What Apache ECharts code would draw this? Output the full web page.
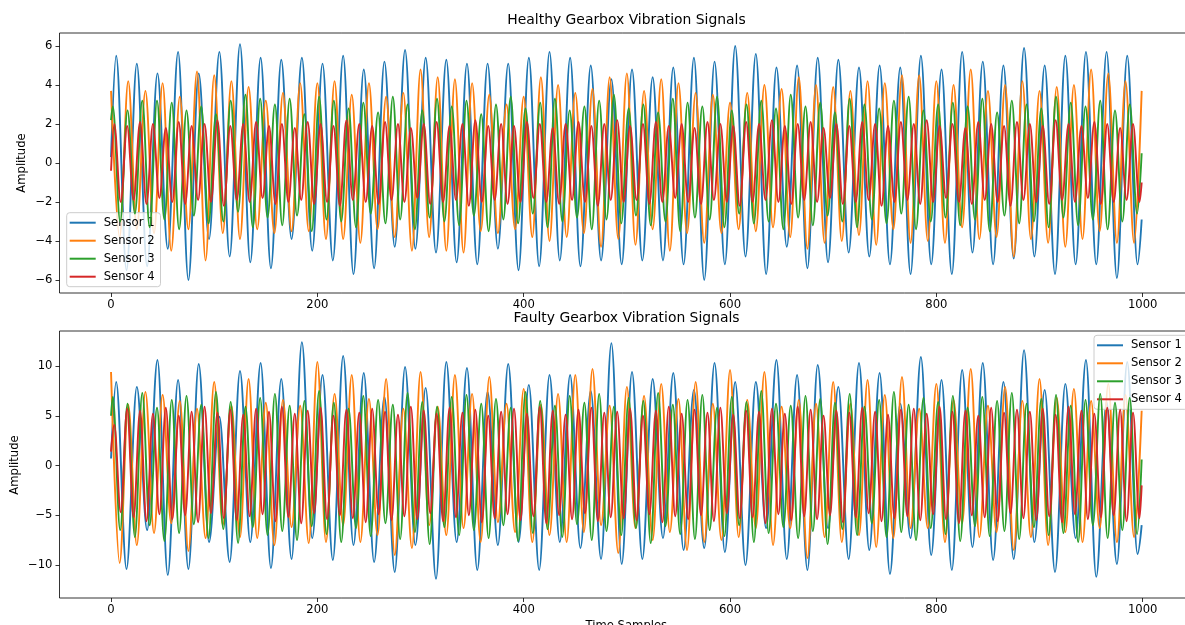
<!DOCTYPE html>
<html><head><meta charset="utf-8">
<script src="https://cdn.jsdelivr.net/npm/echarts@6/dist/echarts.min.js"></script>
<style>html,body{margin:0;padding:0;background:#fff}#c{width:1185px;height:625px}</style>
</head><body><div id="c"></div>
<script>
// ---------- data ----------
const sensorNames = ['Sensor 1', 'Sensor 2', 'Sensor 3', 'Sensor 4'];
const sensorColors = ['#1f77b4', '#ff7f0e', '#2ca02c', '#d62728'];
const cyclesPer1000 = [50, 60, 70, 80];          // oscillation cycles over the 1000 samples
const firstPeakSample = [5, 0, 1.71, 3.125];     // sample index of each sensor's first peak
const lastSample = 999;
const xTicks = [0, 200, 400, 600, 800, 1000];

// Healthy gearbox: peak / trough values, in time order
const healthyStart = [0.3, null, 2.2, -0.4];
const healthyEnd = [-2.9, 3.7, 0.5, -1.0];
const healthyS1Peaks = [5.5,5.1,4.6,5.7,4.6,5.7,6.1,5.4,5.3,5.4,5.1,5.5,4.8,5.2,5.8,5.4,5.3,5.1,5.1,5.1,5.4,5.7,5.4,5.0,4.3,4.8,4.4,4.9,5.4,5.2,6.0,5.6,4.9,5.0,5.4,5.3,4.9,5.0,4.9,5.5,4.8,5.7,5.2,5.0,5.9,5.0,5.5,5.7,5.7,5.5];
const healthyS1Troughs = [-5.5,-5.3,-4.4,-6.0,-3.9,-4.8,-5.1,-5.4,-3.9,-4.5,-5.0,-5.7,-5.4,-4.3,-4.4,-4.6,-5.1,-5.2,-4.4,-5.5,-5.3,-5.0,-5.3,-5.0,-5.2,-5.0,-5.0,-5.2,-6.0,-5.2,-4.8,-5.7,-4.3,-5.4,-5.1,-4.6,-4.8,-5.2,-5.7,-5.2,-5.7,-4.6,-5.2,-4.9,-4.8,-5.7,-5.2,-5.2,-5.9,-5.2];
const healthyS2Peaks = [3.7,4.2,3.7,4.1,3.4,4.7,4.5,4.2,3.9,3.2,3.6,4.1,4.1,4.2,3.5,4.1,3.4,3.6,4.8,4.4,4.3,4.1,3.5,3.0,3.4,4.4,4.0,3.6,3.8,4.4,4.6,3.7,4.3,4.1,3.6,3.5,3.1,3.6,4.0,3.8,4.4,4.0,3.9,3.7,4.2,4.1,4.5,4.5,4.2,4.0,4.8,3.7,4.0,4.2,3.7,3.9,4.0,4.8,4.6,4.2];
const healthyS2Troughs = [-3.8,-3.4,-3.6,-4.5,-3.4,-5.0,-3.6,-3.9,-3.4,-3.6,-3.5,-3.5,-3.9,-3.9,-4.1,-3.4,-3.8,-4.5,-3.8,-4.5,-4.6,-3.5,-3.6,-3.4,-3.8,-4.0,-3.8,-3.6,-4.3,-3.9,-4.2,-3.4,-4.5,-3.6,-4.1,-3.6,-3.4,-3.5,-3.3,-3.8,-4.4,-4.1,-4.0,-3.7,-4.2,-3.4,-4.1,-4.0,-4.1,-3.3,-3.9,-3.8,-4.8,-3.9,-4.1,-4.3,-3.9,-3.5,-4.1,-4.1];
const healthyS3Peaks = [2.9,2.7,3.2,3.2,3.1,2.7,2.9,2.5,3.2,3.5,3.3,3.0,3.3,2.5,3.4,3.2,2.8,3.1,2.6,3.4,3.0,2.7,3.3,2.9,3.2,2.5,3.0,3.4,2.8,3.1,3.3,2.7,2.9,3.2,3.5,2.8,3.0,2.6,3.3,3.1,2.9,3.4,2.7,3.0,3.2,2.8,3.5,2.9,3.1,2.6,3.3,3.0,2.8,3.2,3.4,2.7,3.0,3.1,2.9,3.3,2.6,3.2,3.0,2.8,3.4,3.1,2.9,3.2,2.7,3.0];
const healthyS3Troughs = [-3.0,-2.6,-3.3,-2.9,-3.4,-2.7,-3.1,-3.0,-2.5,-3.3,-2.8,-3.2,-2.7,-3.5,-2.9,-3.0,-3.3,-2.6,-3.1,-2.9,-3.4,-2.8,-3.0,-3.2,-2.7,-3.5,-2.9,-3.1,-2.6,-3.3,-3.0,-2.8,-3.4,-2.9,-3.1,-2.7,-3.2,-3.0,-3.5,-2.8,-2.9,-3.3,-2.6,-3.1,-3.0,-3.4,-2.8,-3.2,-2.7,-3.0,-3.3,-2.9,-3.1,-2.6,-3.4,-3.0,-2.8,-3.2,-2.9,-3.5,-2.7,-3.1,-3.0,-3.3,-2.8,-3.2,-2.9,-3.4,-3.0,-2.6];
const healthyS4Peaks = [2.0,1.9,2.1,2.0,1.8,2.1,1.9,2.0,2.2,1.9,2.0,2.1,1.9,2.0,1.8,2.1,2.0,1.9,2.2,2.0,1.9,2.1,2.0,1.8,2.0,2.1,1.9,2.0,2.2,1.9,2.0,1.9,2.1,2.0,1.8,2.0,2.1,1.9,2.0,2.2,1.9,2.0,2.1,1.9,2.0,1.8,2.1,2.0,1.9,2.1,2.0,2.2,1.9,2.0,2.1,1.8,2.0,1.9,2.1,2.0,1.9,2.1,2.0,2.2,1.9,2.0,1.8,2.1,2.0,1.9,2.1,2.0,1.9,2.2,2.0,1.9,2.1,2.0,1.8,2.0];
const healthyS4Troughs = [-2.0,-1.9,-2.1,-1.8,-2.0,-2.1,-1.9,-2.0,-2.2,-1.9,-2.0,-1.8,-2.1,-2.0,-1.9,-2.1,-2.0,-2.2,-1.9,-2.0,-2.1,-1.9,-2.0,-1.8,-2.1,-2.0,-1.9,-2.2,-2.0,-1.9,-2.1,-2.0,-1.8,-2.0,-2.1,-1.9,-2.0,-2.2,-1.9,-2.0,-1.9,-2.1,-2.0,-1.8,-2.0,-2.1,-1.9,-2.0,-2.2,-2.0,-1.9,-2.0,-2.1,-1.9,-2.0,-1.8,-2.1,-2.0,-1.9,-2.2,-2.0,-1.9,-2.1,-2.0,-1.8,-2.0,-2.1,-1.9,-2.0,-2.2,-1.9,-2.0,-2.1,-1.9,-2.0,-1.8,-2.1,-2.0,-1.9,-2.0];

// Faulty gearbox
const faultyStart = [0.7, null, 5.0, 1.4];
const faultyEnd = [-6.0, 5.5, 0.6, -2.0];
const faultyS1Peaks = [8.4,7.9,10.6,8.6,10.2,4.9,9.5,10.3,8.7,12.4,9.1,11.0,9.3,6.9,9.9,7.8,10.4,9.8,7.4,10.2,8.1,9.1,9.1,7.5,12.3,9.4,8.7,9.3,7.6,10.3,8.4,8.4,10.6,9.1,10.1,7.9,10.3,9.3,6.2,10.9,8.6,9.6,10.3,8.4,11.6,7.6,8.2,10.6,6.4,10.4];
const faultyS1Troughs = [-10.4,-6.5,-11.0,-10.4,-7.7,-9.7,-7.7,-10.3,-9.4,-7.3,-9.5,-8.0,-9.7,-10.7,-8.0,-11.4,-7.7,-10.5,-8.0,-7.7,-10.5,-7.7,-8.3,-9.4,-9.9,-9.4,-7.3,-8.5,-8.3,-8.7,-10.0,-6.3,-9.4,-10.5,-6.3,-9.4,-8.5,-10.9,-7.3,-9.0,-10.5,-8.2,-9.5,-9.4,-7.7,-10.7,-7.3,-11.2,-9.9,-8.9];
const faultyS2Peaks = [9.4,6.1,7.4,7.1,6.5,5.7,8.4,6.0,8.7,6.3,6.6,6.0,10.4,7.2,9.1,6.7,8.7,5.7,9.4,5.9,9.1,7.2,8.9,6.2,7.7,6.1,7.2,9.1,9.7,6.0,7.9,7.0,8.2,6.7,8.4,6.2,9.6,6.6,9.4,5.9,6.6,6.2,8.4,6.2,8.6,7.1,8.9,5.7,8.2,6.6,9.7,6.0,7.9,6.5,8.7,6.8,7.7,6.5,8.2,7.1];
const faultyS2Troughs = [-9.8,-8.0,-6.8,-5.8,-8.6,-7.3,-6.0,-7.2,-7.3,-8.0,-6.2,-7.8,-7.7,-6.0,-7.7,-7.0,-9.0,-8.3,-6.0,-7.0,-6.3,-7.7,-5.7,-6.7,-7.7,-7.0,-7.7,-6.7,-6.0,-8.8,-6.3,-7.5,-6.7,-8.5,-7.7,-7.5,-7.2,-6.3,-8.0,-6.3,-9.3,-7.2,-7.7,-7.0,-8.2,-7.3,-6.3,-6.3,-7.7,-5.8,-7.2,-6.7,-8.5,-7.2,-8.0,-6.7,-7.7,-6.3,-7.7,-7.2];
const faultyS3Peaks = [6.9,6.2,7.3,5.8,6.6,7.0,6.1,7.4,6.4,5.9,6.8,7.2,6.0,6.5,7.5,6.3,5.7,7.0,6.6,6.1,7.3,6.4,5.9,6.9,7.1,6.2,6.7,5.8,7.4,6.5,6.0,7.0,6.3,7.2,5.9,6.8,6.5,7.3,6.1,6.6,7.1,5.8,6.9,6.4,7.5,6.2,6.0,7.0,6.7,6.3,7.2,5.9,6.6,7.4,6.1,6.8,6.4,7.0,5.8,6.9,6.5,7.3,6.2,6.7,7.1,6.0,6.6,7.2,6.3,6.8];
const faultyS3Troughs = [-6.5,-7.2,-6.0,-7.6,-6.8,-5.9,-7.3,-6.4,-7.8,-6.2,-7.0,-6.6,-7.5,-6.1,-6.9,-7.7,-6.3,-7.1,-5.8,-7.4,-6.7,-7.9,-6.2,-7.0,-6.5,-7.3,-6.0,-7.6,-6.8,-6.4,-7.2,-5.9,-7.5,-6.6,-7.0,-6.3,-7.8,-6.1,-6.9,-7.4,-6.5,-7.1,-6.0,-7.7,-6.8,-6.2,-7.3,-6.6,-7.9,-6.4,-7.0,-5.8,-7.2,-6.7,-7.5,-6.3,-6.9,-7.6,-6.1,-7.1,-6.6,-7.4,-6.2,-7.0,-6.8,-7.7,-6.0,-7.3,-6.5,-6.9];
const faultyS4Peaks = [4.1,5.7,5.5,5.2,5.8,5.0,5.4,5.9,5.3,5.6,5.1,5.7,5.4,5.9,5.2,5.5,5.8,5.0,5.6,5.3,5.7,5.4,5.1,5.9,5.5,5.2,5.8,5.3,5.6,5.0,5.4,5.7,5.2,5.9,5.5,5.1,5.6,5.8,5.3,5.4,5.7,5.0,5.5,5.9,5.2,5.6,5.3,5.8,5.1,5.5,5.4,5.7,5.2,5.9,5.6,5.0,5.5,5.3,5.8,5.4,5.1,5.6,5.7,5.2,5.9,5.4,5.5,5.0,5.8,5.3,5.6,5.4,5.7,5.1,5.9,5.5,5.2,5.8,5.6,5.3];
const faultyS4Troughs = [-4.7,-5.2,-5.6,-4.9,-5.4,-5.0,-5.7,-4.8,-5.3,-5.5,-5.1,-4.9,-5.6,-5.2,-5.8,-4.8,-5.4,-5.0,-5.3,-5.7,-4.9,-5.5,-5.1,-5.4,-4.8,-5.6,-5.2,-5.0,-5.7,-5.3,-4.9,-5.5,-5.1,-5.8,-5.0,-5.4,-4.8,-5.6,-5.2,-5.3,-5.5,-4.9,-5.7,-5.1,-5.4,-5.0,-5.6,-4.8,-5.3,-5.2,-5.8,-4.9,-5.5,-5.1,-5.4,-5.0,-5.7,-5.2,-4.8,-5.6,-5.3,-5.1,-5.5,-4.9,-5.4,-5.8,-5.0,-5.2,-5.6,-4.8,-5.3,-5.5,-5.1,-5.7,-4.9,-5.4,-5.2,-5.0,-5.6,-5.3];

// ---------- build point lists (sample index, value) ----------
function buildSeries(k, startVal, peaks, troughs, endVal) {
  const period = 1000 / cyclesPer1000[k];
  const pts = [];
  if (startVal !== null) pts.push([0, startVal]);
  for (let i = 0; i < peaks.length; i++) {
    pts.push([firstPeakSample[k] + i * period, peaks[i]]);
    if (i < troughs.length) pts.push([firstPeakSample[k] + (i + 0.5) * period, troughs[i]]);
  }
  pts.push([lastSample, endVal]);
  return pts;
}
const healthyPeaks = [healthyS1Peaks, healthyS2Peaks, healthyS3Peaks, healthyS4Peaks];
const healthyTroughs = [healthyS1Troughs, healthyS2Troughs, healthyS3Troughs, healthyS4Troughs];
const faultyPeaks = [faultyS1Peaks, faultyS2Peaks, faultyS3Peaks, faultyS4Peaks];
const faultyTroughs = [faultyS1Troughs, faultyS2Troughs, faultyS3Troughs, faultyS4Troughs];

const FONT = 'DejaVu Sans';
const minusFmt = v => String(v).replace('-', '\u2212');
const series = [];
function addPanel(axisIdx, starts, peaksArr, troughsArr, ends) {
  for (let k = 0; k < 4; k++) {
    series.push({
      name: sensorNames[k], type: 'line', xAxisIndex: axisIdx, yAxisIndex: axisIdx,
      data: buildSeries(k, starts[k], peaksArr[k], troughsArr[k], ends[k]),
      showSymbol: false, symbol: 'none', smooth: 0.35, smoothMonotone: 'x',
      lineStyle: { color: sensorColors[k], width: 1.9 }, itemStyle: { color: sensorColors[k] },
      z: 2 + k, animation: false, silent: true
    });
  }
}
addPanel(0, healthyStart, healthyPeaks, healthyTroughs, healthyEnd);
addPanel(1, faultyStart, faultyPeaks, faultyTroughs, faultyEnd);

function xAxisCfg(idx, withName) {
  return {
    type: 'value', gridIndex: idx, min: -49.95, max: 1048.95,
    splitNumber: 5, minInterval: 200, maxInterval: 200,
    axisLine: { show: false, onZero: false }, splitLine: { show: false },
    axisTick: { show: true, inside: false, length: 4, lineStyle: { color: '#000', width: 0.8 } },
    axisLabel: {
      show: true, color: '#000', fontSize: 11.6, fontFamily: FONT, margin: 6,
      showMinLabel: false, showMaxLabel: false,
      formatter: v => xTicks.indexOf(v) >= 0 ? minusFmt(v) : ''
    },
    name: withName ? 'Time Samples' : '', nameLocation: 'middle', nameGap: 22,
    nameTextStyle: { color: '#000', fontSize: 11.6, fontFamily: FONT }
  };
}
function yAxisCfg(idx, mn, mx, step) {
  return {
    type: 'value', gridIndex: idx, min: mn, max: mx,
    splitNumber: Math.round((mx - mn) / step), minInterval: step, maxInterval: step,
    axisLine: { show: false, onZero: false }, splitLine: { show: false },
    axisTick: { show: true, inside: false, length: 4, lineStyle: { color: '#000', width: 0.8 } },
    axisLabel: {
      show: true, color: '#000', fontSize: 11.6, fontFamily: FONT, margin: 7,
      showMinLabel: false, showMaxLabel: false,
      formatter: v => (Math.abs(v / step - Math.round(v / step)) < 1e-6) ? minusFmt(v) : ''
    }
  };
}
function legendCfg(left, top) {
  return {
    data: sensorNames, orient: 'vertical', left: left, top: top,
    icon: 'rect', itemWidth: 26, itemHeight: 2, itemGap: 4,
    backgroundColor: 'rgba(255,255,255,0.8)', borderColor: '#cccccc', borderWidth: 1, borderRadius: 3,
    padding: [3, 6, 3, 3], selectedMode: false,
    textStyle: { color: '#000', fontSize: 11.6, fontFamily: FONT, lineHeight: 14, padding: [0, 0, 0, 3] }
  };
}
function textGraphic(str, x, y, size, rot) {
  return { type: 'text', x: x, y: y, rotation: rot || 0,
    style: { text: str, fill: '#000', font: size + 'px "DejaVu Sans"', textAlign: 'center', textVerticalAlign: 'middle' } };
}

const chart = echarts.init(document.getElementById('c'), null, { renderer: 'canvas' });
chart.setOption({
  animation: false,
  backgroundColor: '#fff',
  grid: [
    { left: 59.5, top: 33, width: 1133.7, height: 260, show: true, borderColor: '#000', borderWidth: 0.8, backgroundColor: 'transparent', containLabel: false, outerBoundsMode: 'none' },
    { left: 59.5, top: 331, width: 1133.7, height: 267, show: true, borderColor: '#000', borderWidth: 0.8, backgroundColor: 'transparent', containLabel: false, outerBoundsMode: 'none' }
  ],
  xAxis: [xAxisCfg(0, false), xAxisCfg(1, true)],
  yAxis: [yAxisCfg(0, -6.67, 6.67, 2), yAxisCfg(1, -13.32, 13.52, 5)],
  legend: [legendCfg(66.7, 212.7), legendCfg(1094, 335.3)],
  graphic: [
    textGraphic('Healthy Gearbox Vibration Signals', 626.5, 20, 13.9),
    textGraphic('Faulty Gearbox Vibration Signals', 626.5, 318, 13.9),
    textGraphic('Amplitude', 22, 163, 11.6, Math.PI / 2),
    textGraphic('Amplitude', 15, 465, 11.6, Math.PI / 2)
  ],
  series: series
});
</script>
</body></html>
